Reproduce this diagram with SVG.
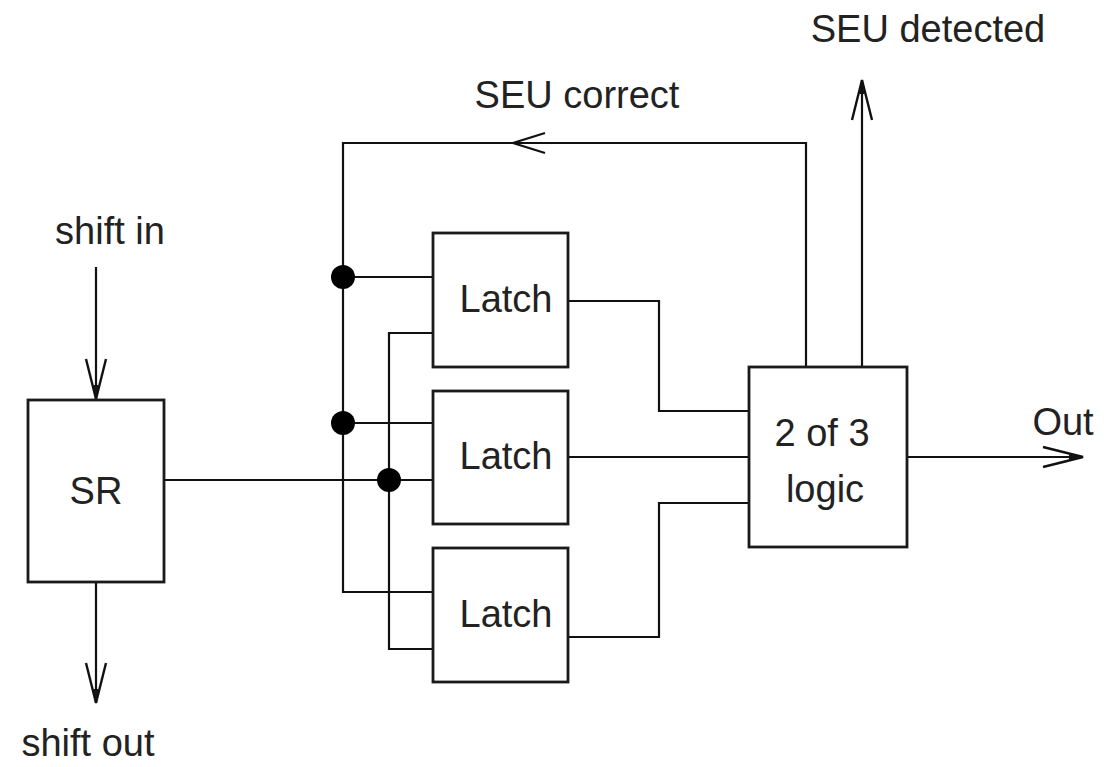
<svg xmlns="http://www.w3.org/2000/svg" width="1112" height="767" viewBox="0 0 1112 767">
<style>
.box{fill:#fff;stroke:#1a1a1a;stroke-width:2.8}
.w{fill:none;stroke:#111;stroke-width:2.2}
.t{font-family:"Liberation Sans",Arial,sans-serif;font-size:38px;fill:#222;text-anchor:middle}
.dot{fill:#000}
</style>
<defs>
<marker id="ah" markerUnits="userSpaceOnUse" markerWidth="50" markerHeight="30" viewBox="-44 -15 48 30" refX="0" refY="0" orient="auto">
<path d="M-40,-10 L0,0 L-40,10" fill="none" stroke="#111" stroke-width="2.4"/>
<path d="M-14,-2.5 L0,0 L-14,2.5 Z" fill="#111"/>
</marker>
</defs>
<g id="connectors">
<path class="w" d="M806,367 V143 H343 V592 H433"/>
<path class="w" d="M343,277 H433"/>
<path class="w" d="M343,423 H433"/>
<path class="w" d="M164,480 H433"/>
<path class="w" d="M433,333 H389 V649 H433"/>
<path class="w" d="M568,301 H659 V411 H749"/>
<path class="w" d="M568,457 H749"/>
<path class="w" d="M568,637 H659 V503 H749"/>
<path class="w" d="M907,457 H1083" marker-end="url(#ah)"/>
<path class="w" d="M862,367 V80" marker-end="url(#ah)"/>
<path class="w" d="M96,267 V399" marker-end="url(#ah)"/>
<path class="w" d="M96,582 V703" marker-end="url(#ah)"/>
<path class="w" d="M545,133 L513,143 L545,153" stroke-width="2.4"/>
<circle class="dot" cx="343" cy="277" r="12"/>
<circle class="dot" cx="343" cy="423" r="12"/>
<circle class="dot" cx="389" cy="480" r="12"/>
</g>
<g id="sr">
<rect class="box" x="28" y="400" width="136" height="182"/>
<text class="t" x="96" y="504">SR</text>
</g>
<g id="latch1">
<rect class="box" x="433" y="233" width="135" height="134"/>
<text class="t" x="506" y="312">Latch</text>
</g>
<g id="latch2">
<rect class="box" x="433" y="391" width="135" height="133"/>
<text class="t" x="506" y="469">Latch</text>
</g>
<g id="latch3">
<rect class="box" x="433" y="548" width="135" height="134"/>
<text class="t" x="506" y="627">Latch</text>
</g>
<g id="logic">
<rect class="box" x="749" y="367" width="158" height="180"/>
<text class="t" x="822" y="446">2 of 3</text>
<text class="t" x="825" y="502">logic</text>
</g>
<g id="labels">
<text class="t" x="928" y="42">SEU detected</text>
<text class="t" x="577" y="108">SEU correct</text>
<text class="t" x="110" y="244">shift in</text>
<text class="t" x="88" y="756">shift out</text>
<text class="t" x="1063" y="435">Out</text>
</g>
</svg>
